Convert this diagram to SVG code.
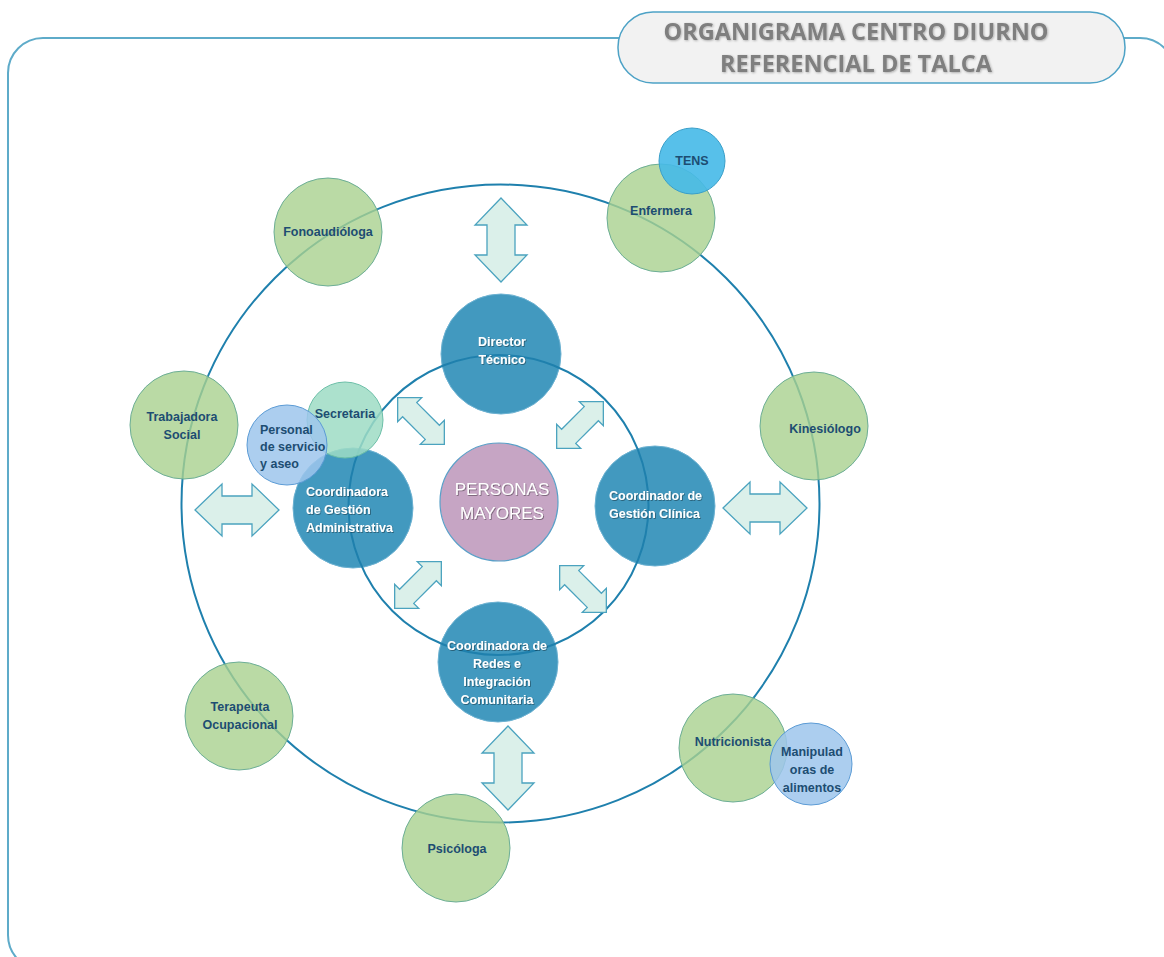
<svg xmlns="http://www.w3.org/2000/svg" width="1164" height="957" viewBox="0 0 1164 957">
<defs>
<filter id="sh" x="-10%" y="-20%" width="120%" height="140%"><feDropShadow dx="0.8" dy="0.8" stdDeviation="0.6" flood-color="#000" flood-opacity="0.45"/></filter>
<filter id="shg" x="-10%" y="-20%" width="120%" height="140%"><feDropShadow dx="0.8" dy="0.8" stdDeviation="0.8" flood-color="#000" flood-opacity="0.3"/></filter>
<path id="ah" d="M -42,0 L -15,-26 L -15,-14 L 15,-14 L 15,-26 L 42,0 L 15,26 L 15,14 L -15,14 L -15,26 Z"/>
<path id="ad" d="M -33,0 L -16,-17 L -16,-10 L 16,-10 L 16,-17 L 33,0 L 16,17 L 16,10 L -16,10 L -16,17 Z"/>
</defs>
<style>
.frame{fill:none;stroke:#5eabc9;stroke-width:2}
.titlebox{fill:#f2f2f2;stroke:#4da2c6;stroke-width:1.5}
.title{font-family:"Open Sans","Liberation Sans",sans-serif;font-weight:bold;font-size:23.5px;fill:#7f7f7f;text-anchor:middle}
.ring{fill:none;stroke:#1f80ad;stroke-width:2}
.main{fill:#4299bf;stroke:#6db2d2;stroke-width:1}
.pm{fill:#c6a5c4;stroke:#5aa0c8;stroke-width:1.2}
.green{fill:#a9d18e;fill-opacity:0.8;stroke:#6cae96;stroke-width:1}
.tens{fill:#45b9e8;fill-opacity:0.9;stroke:#3a9fc9;stroke-width:1}
.lblue{fill:#9dc6ec;fill-opacity:0.85;stroke:#5b9bd5;stroke-width:1}
.sec{fill:#9edcc4;fill-opacity:0.85;stroke:#6cbfa8;stroke-width:1}
.arrow{fill:#dbf0ea;stroke:#4ba3bf;stroke-width:1.3}
.wt{font-family:"Liberation Sans",Arial,sans-serif;font-weight:bold;font-size:12.5px;fill:#ffffff;filter:url(#sh)}
.dt{font-family:"Liberation Sans",Arial,sans-serif;font-weight:bold;font-size:12.5px;fill:#1d4d72}
.big{font-family:"Liberation Sans",Arial,sans-serif;font-size:17px;fill:#ffffff;text-anchor:middle;filter:url(#sh)}
.c{text-anchor:middle}
</style>
<rect class="frame" x="8" y="38" width="1167" height="932" rx="35"/>
<g id="title">
<rect class="titlebox" x="618" y="12" width="507" height="71" rx="35"/>
<text class="title" x="856" y="40" filter="url(#shg)">ORGANIGRAMA CENTRO DIURNO</text>
<text class="title" x="856" y="72" filter="url(#shg)">REFERENCIAL DE TALCA</text>
</g>
<g id="main-nodes">
<g id="director"><circle class="main" cx="501" cy="354" r="60"/></g>
<g id="coord-admin"><circle class="main" cx="353" cy="508" r="60"/></g>
<g id="coord-clinica"><circle class="main" cx="655" cy="506" r="60"/></g>
<g id="coord-redes"><circle class="main" cx="498" cy="662" r="60"/></g>
<g id="personas-mayores"><circle class="pm" cx="499" cy="502" r="59"/>
<text class="big"><tspan x="502" y="495">PERSONAS</tspan><tspan x="502" y="519">MAYORES</tspan></text></g>
</g>
<g id="rings">
<circle class="ring" cx="500.5" cy="503.5" r="319"/>
<circle class="ring" cx="498.5" cy="505" r="150"/>
</g>
<g id="connectors">
<use href="#ah" class="arrow" transform="translate(501,240) rotate(90)"/>
<use href="#ah" class="arrow" transform="translate(508,768) rotate(90)"/>
<use href="#ah" class="arrow" transform="translate(237,510)"/>
<use href="#ah" class="arrow" transform="translate(765,508)"/>
<use href="#ad" class="arrow" transform="translate(421,421) rotate(45)"/>
<use href="#ad" class="arrow" transform="translate(580,425) rotate(-45)"/>
<use href="#ad" class="arrow" transform="translate(418,585) rotate(-45)"/>
<use href="#ad" class="arrow" transform="translate(583,589) rotate(45)"/>
</g>
<g id="main-labels">
<text class="wt c"><tspan x="502" y="346">Director</tspan><tspan x="502" y="364">Técnico</tspan></text>
<text class="wt"><tspan x="306" y="496">Coordinadora</tspan><tspan x="306" y="514">de Gestión</tspan><tspan x="306" y="532">Administrativa</tspan></text>
<text class="wt"><tspan x="609" y="500">Coordinador de</tspan><tspan x="609" y="518">Gestión Clínica</tspan></text>
<text class="wt c"><tspan x="497" y="650">Coordinadora de</tspan><tspan x="497" y="668">Redes e</tspan><tspan x="497" y="686">Integración</tspan><tspan x="497" y="704">Comunitaria</tspan></text>
</g>
<g id="secretaria"><circle class="sec" cx="345" cy="420" r="38"/>
<text class="dt c" x="345" y="418">Secretaria</text></g>
<g id="personal"><circle class="lblue" cx="287" cy="445" r="40"/>
<text class="dt"><tspan x="260" y="434">Personal</tspan><tspan x="260" y="451">de servicio</tspan><tspan x="260" y="468">y aseo</tspan></text></g>
<g id="fonoaudiologa"><circle class="green" cx="328" cy="232" r="54"/>
<text class="dt c" x="328" y="236">Fonoaudióloga</text></g>
<g id="enfermera"><circle class="green" cx="661" cy="218" r="54"/>
<text class="dt c" x="661" y="215">Enfermera</text></g>
<g id="tens"><circle class="tens" cx="692" cy="161" r="33"/>
<text class="dt c" x="692" y="165">TENS</text></g>
<g id="trabajadora-social"><circle class="green" cx="184" cy="425" r="54"/>
<text class="dt c"><tspan x="182" y="421">Trabajadora</tspan><tspan x="182" y="439">Social</tspan></text></g>
<g id="kinesiologo"><circle class="green" cx="814" cy="426" r="54"/>
<text class="dt c" x="825" y="433">Kinesiólogo</text></g>
<g id="terapeuta"><circle class="green" cx="239" cy="716" r="54"/>
<text class="dt c"><tspan x="240" y="711">Terapeuta</tspan><tspan x="240" y="729">Ocupacional</tspan></text></g>
<g id="psicologa"><circle class="green" cx="456" cy="848" r="54"/>
<text class="dt c" x="457" y="853">Psicóloga</text></g>
<g id="nutricionista"><circle class="green" cx="733" cy="748" r="54"/>
<text class="dt c" x="733" y="746">Nutricionista</text></g>
<g id="manipuladoras"><circle class="lblue" cx="811" cy="764" r="41"/>
<text class="dt c"><tspan x="812" y="756">Manipulad</tspan><tspan x="812" y="774">oras de</tspan><tspan x="812" y="792">alimentos</tspan></text></g>
</svg>
